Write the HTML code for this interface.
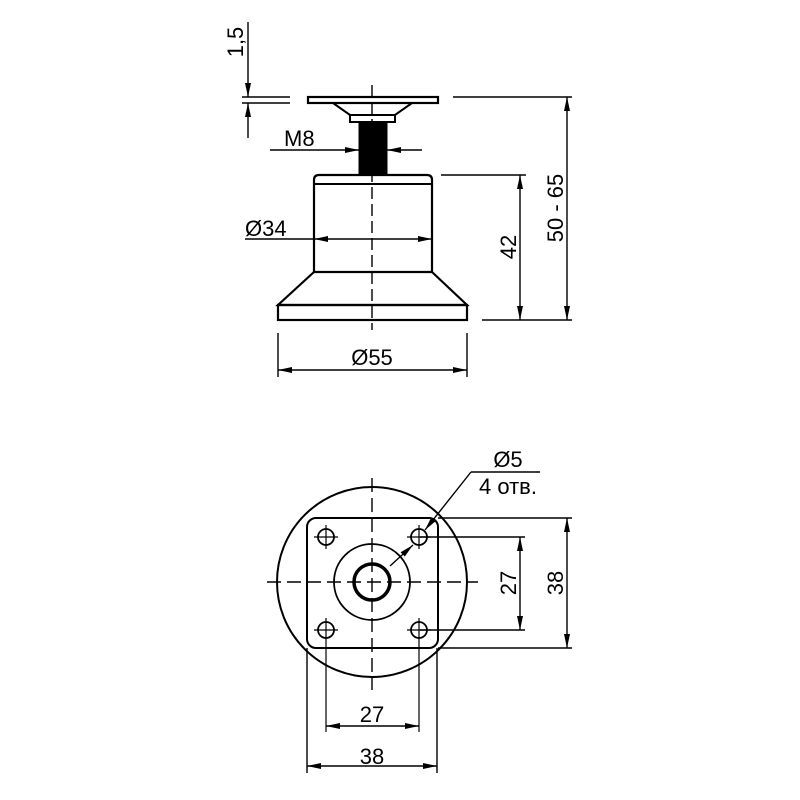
<!DOCTYPE html>
<html><head><meta charset="utf-8"><style>html,body{margin:0;padding:0;background:#fff}svg{display:block}text{font-family:"Liberation Sans",sans-serif;font-size:22px;fill:#000}</style></head><body>
<svg width="800" height="800" viewBox="0 0 800 800" xmlns="http://www.w3.org/2000/svg">
<defs>
<marker id="a" viewBox="0 0 14 6" refX="14" refY="3" markerWidth="14" markerHeight="6" orient="auto-start-reverse" markerUnits="userSpaceOnUse"><path d="M0,0 L14,3 L0,6 Z" fill="#000"/></marker>
</defs>
<g fill="none" stroke="#000" stroke-width="1.4">
<rect x="308" y="97" width="130" height="6" stroke-width="2.2"/>
<path d="M333,103 L350,115 L395,115 L412,103" stroke-width="2"/>
<rect x="350" y="115" width="45" height="7" stroke-width="2"/>
<rect x="359" y="122" width="28" height="53" fill="#000" stroke="#000" stroke-width="1"/>
<path d="M314,272 L314,180 Q314,175 319,175 L427,175 Q432,175 432,180 L432,272 Z" stroke-width="2.2"/>
<line x1="314" y1="184" x2="432" y2="184" stroke-width="2"/>
<path d="M314,272 L278,305 L467,305 L432,272" stroke-width="2.2"/>
<rect x="278" y="305" width="189" height="15" stroke-width="2.2"/>
<line x1="372" y1="85" x2="372" y2="330" stroke-dasharray="12,5"/>
<line x1="242" y1="97" x2="290" y2="97"/>
<line x1="242" y1="103" x2="290" y2="103"/>
<line x1="248" y1="22" x2="248" y2="97" marker-end="url(#a)"/>
<line x1="248" y1="138" x2="248" y2="103" marker-end="url(#a)"/>
<line x1="270" y1="150" x2="359" y2="150" marker-end="url(#a)"/>
<line x1="422" y1="150" x2="387" y2="150" marker-end="url(#a)"/>
<line x1="245" y1="239" x2="314" y2="239"/>
<line x1="314" y1="239" x2="432" y2="239" marker-start="url(#a)" marker-end="url(#a)"/>
<line x1="453" y1="97" x2="572" y2="97"/>
<line x1="441" y1="175" x2="526" y2="175"/>
<line x1="482" y1="320" x2="572" y2="320"/>
<line x1="520" y1="175" x2="520" y2="320" marker-start="url(#a)" marker-end="url(#a)"/>
<line x1="567" y1="97" x2="567" y2="320" marker-start="url(#a)" marker-end="url(#a)"/>
<line x1="278" y1="333" x2="278" y2="377"/>
<line x1="467" y1="333" x2="467" y2="377"/>
<line x1="278" y1="370" x2="467" y2="370" marker-start="url(#a)" marker-end="url(#a)"/>

<circle cx="372" cy="582" r="95" stroke-width="2"/>
<rect x="307" y="518" width="131" height="130" rx="9" stroke-width="2"/>
<circle cx="372" cy="582" r="38" stroke-width="1.8"/>
<circle cx="372" cy="582" r="18" stroke-width="3.5"/>
<line x1="267" y1="582" x2="478" y2="582" stroke-dasharray="14,6"/>
<line x1="372" y1="478" x2="372" y2="690" stroke-dasharray="14,6"/>
<g stroke-width="1.8">
<circle cx="326" cy="537" r="8"/><circle cx="419" cy="537" r="8"/>
<circle cx="326" cy="630" r="8"/><circle cx="419" cy="630" r="8"/>
</g>
<g stroke-width="1.2">
<line x1="314" y1="537" x2="338" y2="537"/><line x1="326" y1="525" x2="326" y2="549"/>
<line x1="407" y1="537" x2="431" y2="537"/><line x1="419" y1="525" x2="419" y2="549"/>
<line x1="314" y1="630" x2="338" y2="630"/><line x1="326" y1="618" x2="326" y2="732"/>
<line x1="407" y1="630" x2="431" y2="630"/><line x1="419" y1="618" x2="419" y2="732"/>
</g>
<line x1="540" y1="472" x2="471" y2="472"/>
<line x1="471" y1="472" x2="425" y2="530" marker-end="url(#a)"/>
<line x1="390" y1="566" x2="413" y2="545" marker-end="url(#a)"/>
<line x1="420" y1="537" x2="525" y2="537"/>
<line x1="420" y1="630" x2="525" y2="630"/>
<line x1="438" y1="518" x2="572" y2="518"/>
<line x1="438" y1="648" x2="572" y2="648"/>
<line x1="520" y1="537" x2="520" y2="630" marker-start="url(#a)" marker-end="url(#a)"/>
<line x1="567" y1="518" x2="567" y2="648" marker-start="url(#a)" marker-end="url(#a)"/>
<line x1="307" y1="648" x2="307" y2="773"/>
<line x1="437" y1="648" x2="437" y2="773"/>
<line x1="326" y1="726" x2="419" y2="726" marker-start="url(#a)" marker-end="url(#a)"/>
<line x1="307" y1="766" x2="437" y2="766" marker-start="url(#a)" marker-end="url(#a)"/>
</g>
<text x="243" y="42" transform="rotate(-90 243 42)" text-anchor="middle">1,5</text>
<text x="284" y="146">M8</text>
<text x="245" y="236">Ø34</text>
<text x="372" y="365" text-anchor="middle">Ø55</text>
<text x="516" y="247" transform="rotate(-90 516 247)" text-anchor="middle">42</text>
<text x="563" y="208" transform="rotate(-90 563 208)" text-anchor="middle">50 - 65</text>
<text x="508" y="467" text-anchor="middle">Ø5</text>
<text x="508" y="494" text-anchor="middle">4 отв.</text>
<text x="516" y="583" transform="rotate(-90 516 583)" text-anchor="middle">27</text>
<text x="563" y="583" transform="rotate(-90 563 583)" text-anchor="middle">38</text>
<text x="372" y="722" text-anchor="middle">27</text>
<text x="372" y="764" text-anchor="middle">38</text>
</svg>
</body></html>
